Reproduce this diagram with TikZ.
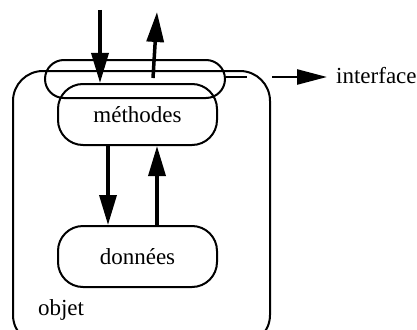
\documentclass[tikz,border=0pt]{standalone}
\usepackage{fontspec}
\setmainfont{Liberation Serif}
\usetikzlibrary{arrows.meta}
\begin{document}
\begin{tikzpicture}[x=1pt,y=-1pt,
  box/.style={draw, line width=2pt, inner sep=0pt},
  flow/.style={line width=3.5pt, -{Triangle[length=30pt,width=17pt]}},
  ifl/.style={line width=2.5pt},
  lbl/.style={font=\fontsize{23}{27}\selectfont, inner sep=0pt}]
\clip (0,0) rectangle (417,329);
\useasboundingbox (0,0) rectangle (417,329);
\node[box, rounded corners=30pt, minimum width=257pt, minimum height=274pt] (obj) at (141.5,208) {};
\node[box, rounded corners=19pt, minimum width=180pt, minimum height=38pt] (iface) at (135,79) {};
\node[box, rounded corners=25pt, minimum width=159pt, minimum height=61pt, lbl] (meth) at (137.5,114.5) {méthodes};
\node[box, rounded corners=25pt, minimum width=159pt, minimum height=61pt, lbl] (don) at (137.5,256.5) {données};
\node[lbl] (objl) at (61,310) {objet};
\node[lbl, anchor=west] (ifl) at (336,76) {interface};
\coordinate (inA) at (100,10);
\coordinate (outA) at (153,78);
\coordinate (outB) at (157,12);
\draw[flow] (inA) -- (inA |- meth.north);
\draw[flow] (outA) -- (outB);
\draw[flow] (meth.south -| 108,0) -- (don.north -| 108,0);
\draw[flow] (don.north -| 157,0) -- (meth.south -| 157,0);
\coordinate (g1) at (247,77);
\coordinate (g2) at (272,77);
\coordinate (g3) at (327,77);
\draw[ifl] (iface.east |- g1) -- (g1);
\draw[ifl, -{Triangle[length=30pt,width=15pt]}] (g2) -- (g3);
\end{tikzpicture}
\end{document}
